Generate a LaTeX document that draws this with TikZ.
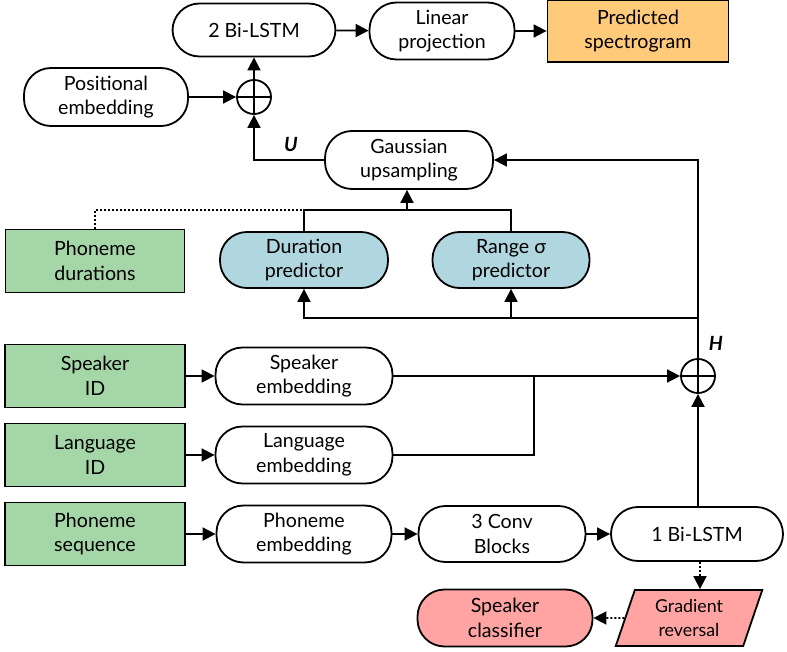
\documentclass[tikz,border=0pt]{standalone}
\usepackage{fontspec}
\setmainfont{Lato}
\usetikzlibrary{arrows.meta,shapes.geometric,calc}

\definecolor{specfill}{HTML}{FFCA7A}
\definecolor{inputfill}{HTML}{A5D6A7}
\definecolor{predfill}{HTML}{B0D6E0}
\definecolor{advfill}{HTML}{FFA3A3}

\newcommand\blockfont{\fontsize{19.6}{24.5}\selectfont}
\newcommand\smallblockfont{\fontsize{17.8}{23.5}\selectfont}

\tikzset{
  x=1pt, y=-1pt,
  every node/.style={inner sep=0pt, align=center, font=\blockfont},
  layer/.style={draw, line width=1.8pt, rounded corners=27pt, fill=white,
                minimum width=#1, minimum height=56pt},
  inputbox/.style={draw, line width=1.8pt, fill=inputfill,
                   minimum width=180pt, minimum height=63pt},
  sumnode/.style={circle, draw, line width=1.8pt, minimum size=34pt, fill=white,
    path picture={\draw[line width=1.6pt]
      (path picture bounding box.north) -- (path picture bounding box.south)
      (path picture bounding box.west) -- (path picture bounding box.east);}},
  conn/.style={line width=1.8pt},
  arr/.style={conn, -{Triangle[length=13pt,width=13pt]}},
  dotconn/.style={line width=1.8pt, dash pattern=on 2pt off 2pt},
  dotarr/.style={dotconn, -{Triangle[length=13pt,width=13pt]}},
  vecname/.style={font=\blockfont\bfseries\itshape}
}

\begin{document}
\begin{tikzpicture}
\useasboundingbox (0,0) rectangle (787,652);

% decoder
\node[layer=163pt, minimum height=53pt] (bilstm2) at (254,30) {2 Bi-LSTM};
\node[layer=145pt, minimum height=57pt] (linproj) at (442,31) {Linear\\projection};
\node[draw, line width=1.8pt, fill=specfill, minimum width=181pt, minimum height=62pt]
  (spec) at (638,31) {Predicted\\spectrogram};
\node[layer=164pt, minimum height=58pt] (posemb) at (106,97) {Positional\\embedding};
\node[sumnode] (sumU) at (254,97) {};

% upsampling and predictors
\node[layer=168pt, minimum height=58pt] (gauss) at (409,160) {Gaussian\\upsampling};
\node[inputbox, minimum width=179pt] (phdur) at (95,261) {Phoneme\\durations};
\node[layer=168pt, fill=predfill] (durpred) at (304,260) {Duration\\predictor};
\node[layer=157pt, fill=predfill] (rangepred) at (511,260) {Range σ\\predictor};
\coordinate (jtop) at (407,210);
\coordinate (jbot) at (698,318);

% encoder
\node[inputbox] (spkid) at (95,376) {Speaker\\ID};
\node[layer=177pt, minimum height=57pt] (spkemb) at (304,376) {Speaker\\embedding};
\node[sumnode] (sumH) at (698,376) {};
\node[inputbox] (langid) at (95,455) {Language\\ID};
\node[layer=177pt, minimum height=57pt] (langemb) at (304,455) {Language\\embedding};
\coordinate (jemb) at (534,376);
\node[inputbox] (phseq) at (95,534) {Phoneme\\sequence};
\node[layer=175pt, minimum height=57pt] (phemb) at (304,534) {Phoneme\\embedding};
\node[layer=167pt] (conv) at (502,534) {3 Conv\\Blocks};
\node[layer=172pt, minimum height=54pt] (bilstm1) at (697,534) {1 Bi-LSTM};

% adversarial branch
\node[trapezium, trapezium left angle=72, trapezium right angle=108,
      trapezium stretches=true, draw, line width=1.8pt, fill=advfill,
      minimum width=148pt, minimum height=56pt, font=\smallblockfont]
  (grad) at (689,618) {Gradient\\reversal};
\node[layer=175pt, minimum height=57pt, fill=advfill] (spkcls) at (505,618) {Speaker\\classifier};

% decoder connections
\draw[arr] (bilstm2) -- (linproj);
\draw[arr] (linproj) -- (spec);
\draw[arr] (posemb) -- (sumU);
\draw[arr] (sumU) -- (bilstm2);
\draw[arr] (gauss.west) -| (sumU.south);
\node[vecname] (labU) at (291,144) {U};

% predictors and upsampling
\draw[arr] (sumH.north) |- (gauss.east);
\draw[conn] (durpred.north) |- (jtop) -| (rangepred.north);
\draw[arr] (jtop) -- (jtop |- gauss.south);
\draw[dotconn] (phdur.north) |- (durpred.north |- jtop);
\draw[arr] (jbot) -| (durpred.south);
\draw[arr] (rangepred.south |- jbot) -- (rangepred.south);

% encoder connections
\draw[arr] (spkid) -- (spkemb);
\draw[arr] (langid) -- (langemb);
\draw[arr] (phseq) -- (phemb);
\draw[arr] (phemb) -- (conv);
\draw[arr] (conv) -- (bilstm1);
\draw[arr] (spkemb) -- (sumH);
\draw[conn] (langemb.east) -| (jemb);
\draw[arr] (sumH |- bilstm1.north) -- (sumH.south);
\node[vecname] (labH) at (716,343) {H};

% adversarial connections
\draw[dotarr] (bilstm1.south -| 700,0) -- (700,0 |- grad.north);
\draw[dotarr] (grad.west) -- (spkcls.east);
\end{tikzpicture}
\end{document}
